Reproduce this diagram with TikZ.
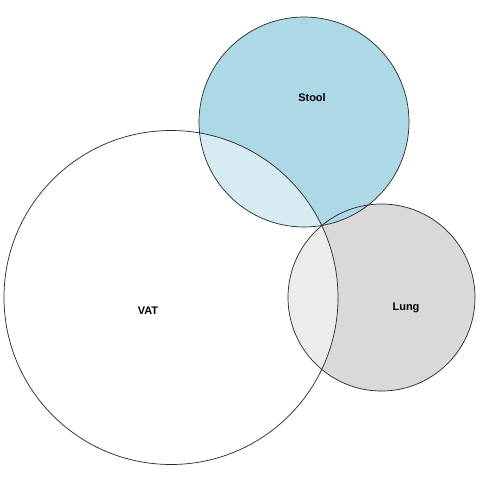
\documentclass[tikz,border=0pt]{standalone}
\usepackage{fontspec}
\setmainfont{Liberation Sans}
\definecolor{stoolblue}{HTML}{ADD8E6}
\definecolor{lunggray}{HTML}{D9D9D9}
\begin{document}
\begin{tikzpicture}[x=1pt,y=-1pt,
  setcircle/.style={draw=black!85,line width=0.7pt},
  setlabel/.style={font=\fontsize{11}{13}\selectfont\bfseries}]
\useasboundingbox (0,0) rectangle (480,480);
\fill[white] (0,0) rectangle (480,480);
\fill[lunggray] (381.5,297.5) circle[radius=93.5];
\fill[stoolblue] (304,122) circle[radius=105];
\fill[white,fill opacity=0.5] (171,297.5) circle[radius=167];
\draw[setcircle] (381.5,297.5) circle[radius=93.5];
\draw[setcircle] (304,122) circle[radius=105];
\draw[setcircle] (171,297.5) circle[radius=167];
\node[setlabel] (stool) at (312,98) {Stool};
\node[setlabel] (lung) at (406,307.5) {Lung};
\node[setlabel] (vat) at (148,311) {VAT};
\end{tikzpicture}
\end{document}
